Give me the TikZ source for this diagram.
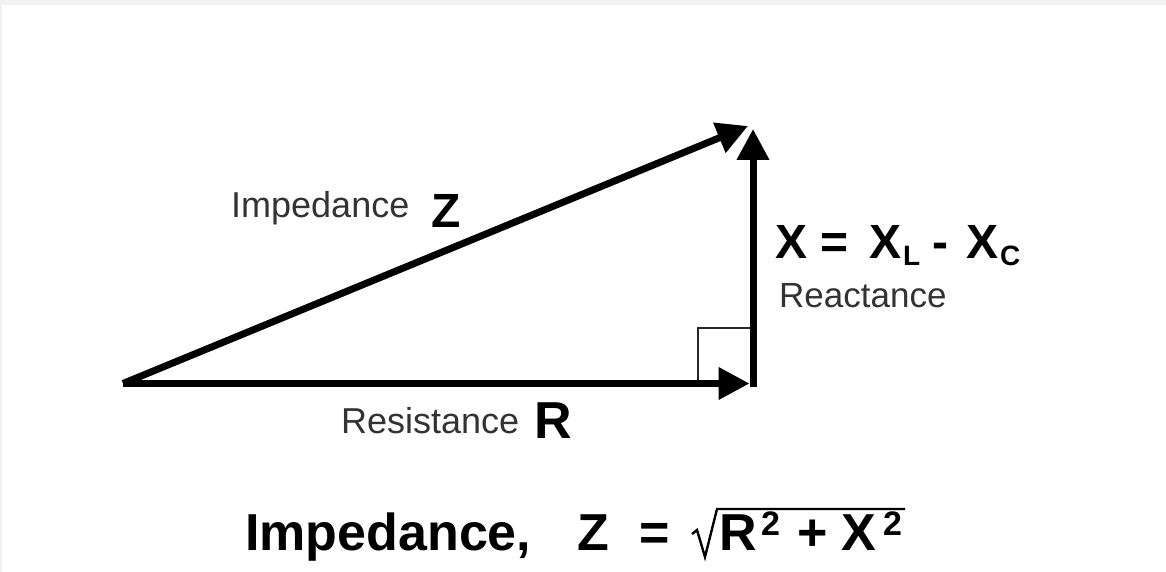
\documentclass[tikz,border=0pt]{standalone}
\usepackage{fontspec}
\setmainfont{Liberation Sans}
\usetikzlibrary{arrows.meta}
\definecolor{edgegray}{HTML}{F3F1F4}
\definecolor{labelgray}{HTML}{333333}
\tikzset{
  vec/.style={line width=7pt, -{Triangle[length=31pt,width=31pt]}},
  thinsq/.style={line width=1.6pt, black!85},
  lbl/.style={anchor=base west, inner sep=0pt, text=labelgray, font=\fontsize{36}{40}\selectfont},
  lblr/.style={anchor=base west, inner sep=0pt, text=labelgray, font=\fontsize{35}{40}\selectfont},
  big/.style={anchor=base west, inner sep=0pt, font=\bfseries\fontsize{48}{52}\selectfont},
  bigr/.style={anchor=base west, inner sep=0pt, font=\bfseries\fontsize{52}{56}\selectfont},
  subs/.style={anchor=base west, inner sep=0pt, font=\bfseries\fontsize{28}{30}\selectfont},
  sups/.style={anchor=base west, inner sep=0pt, font=\bfseries\fontsize{34}{36}\selectfont},
}
\begin{document}
\begin{tikzpicture}[x=1pt, y=-1pt]
\useasboundingbox (0,0) rectangle (1166,572);
\fill[edgegray] (0,0) rectangle (1166,572);
\fill[white] (2,5) rectangle (1166,572);

% vertices
\coordinate (O) at (123,383.5);
\coordinate (Btip) at (749.5,383.5);
\coordinate (Bb) at (753,387);
\coordinate (T) at (753,129);
\coordinate (H) at (748,126);
\coordinate (S1) at (698,383.5);
\coordinate (S2) at (698,328);
\coordinate (S3) at (753,328);

% right angle square
\draw[thinsq] (S1) -- (S2) -- (S3);

% vectors
\draw[vec] (O) -- (Btip);
\draw[vec] (Bb) -- (T);
\draw[vec] (O) -- (H);

% labels
\node[lbl] (impl) at (231,217) {Impedance};
\node[big] (zl) at (431,227) {Z};
\node[lbl] (resl) at (341,433) {Resistance};
\node[bigr] (rl) at (534,438) {R};
\node[big] (x1) at (775,258) {X};
\node[big] (eq1) at (820,258) {=};
\node[big] (x1b) at (869,258) {X};
\node[subs] (sl) at (903,265) {L};
\node[big] (minus) at (932,258) {-};
\node[big] (x2) at (966,258) {X};
\node[subs] (sc) at (1000,265) {C};
\node[lblr] (reac) at (779,307) {Reactance};

% formula
\node[bigr] (fimp) at (245,550) {Impedance,};
\node[bigr] (fz) at (577,550) {Z};
\node[bigr] (feq) at (639,550) {=};
\coordinate (r1) at (692,534);
\coordinate (r2) at (697,530);
\coordinate (r3) at (705,557);
\coordinate (r4) at (717,509);
\coordinate (r5) at (905,509);
\draw[line width=2.4pt, line join=miter] (r1) -- (r2) -- (r3) -- (r4) -- (r5);
\node[bigr] (fr) at (719,550) {R};
\node[sups] (fr2) at (761,535) {2};
\node[bigr] (fplus) at (797,550) {+};
\node[bigr] (fx) at (841,550) {X};
\node[sups] (fx2) at (883,535) {2};
\end{tikzpicture}
\end{document}
